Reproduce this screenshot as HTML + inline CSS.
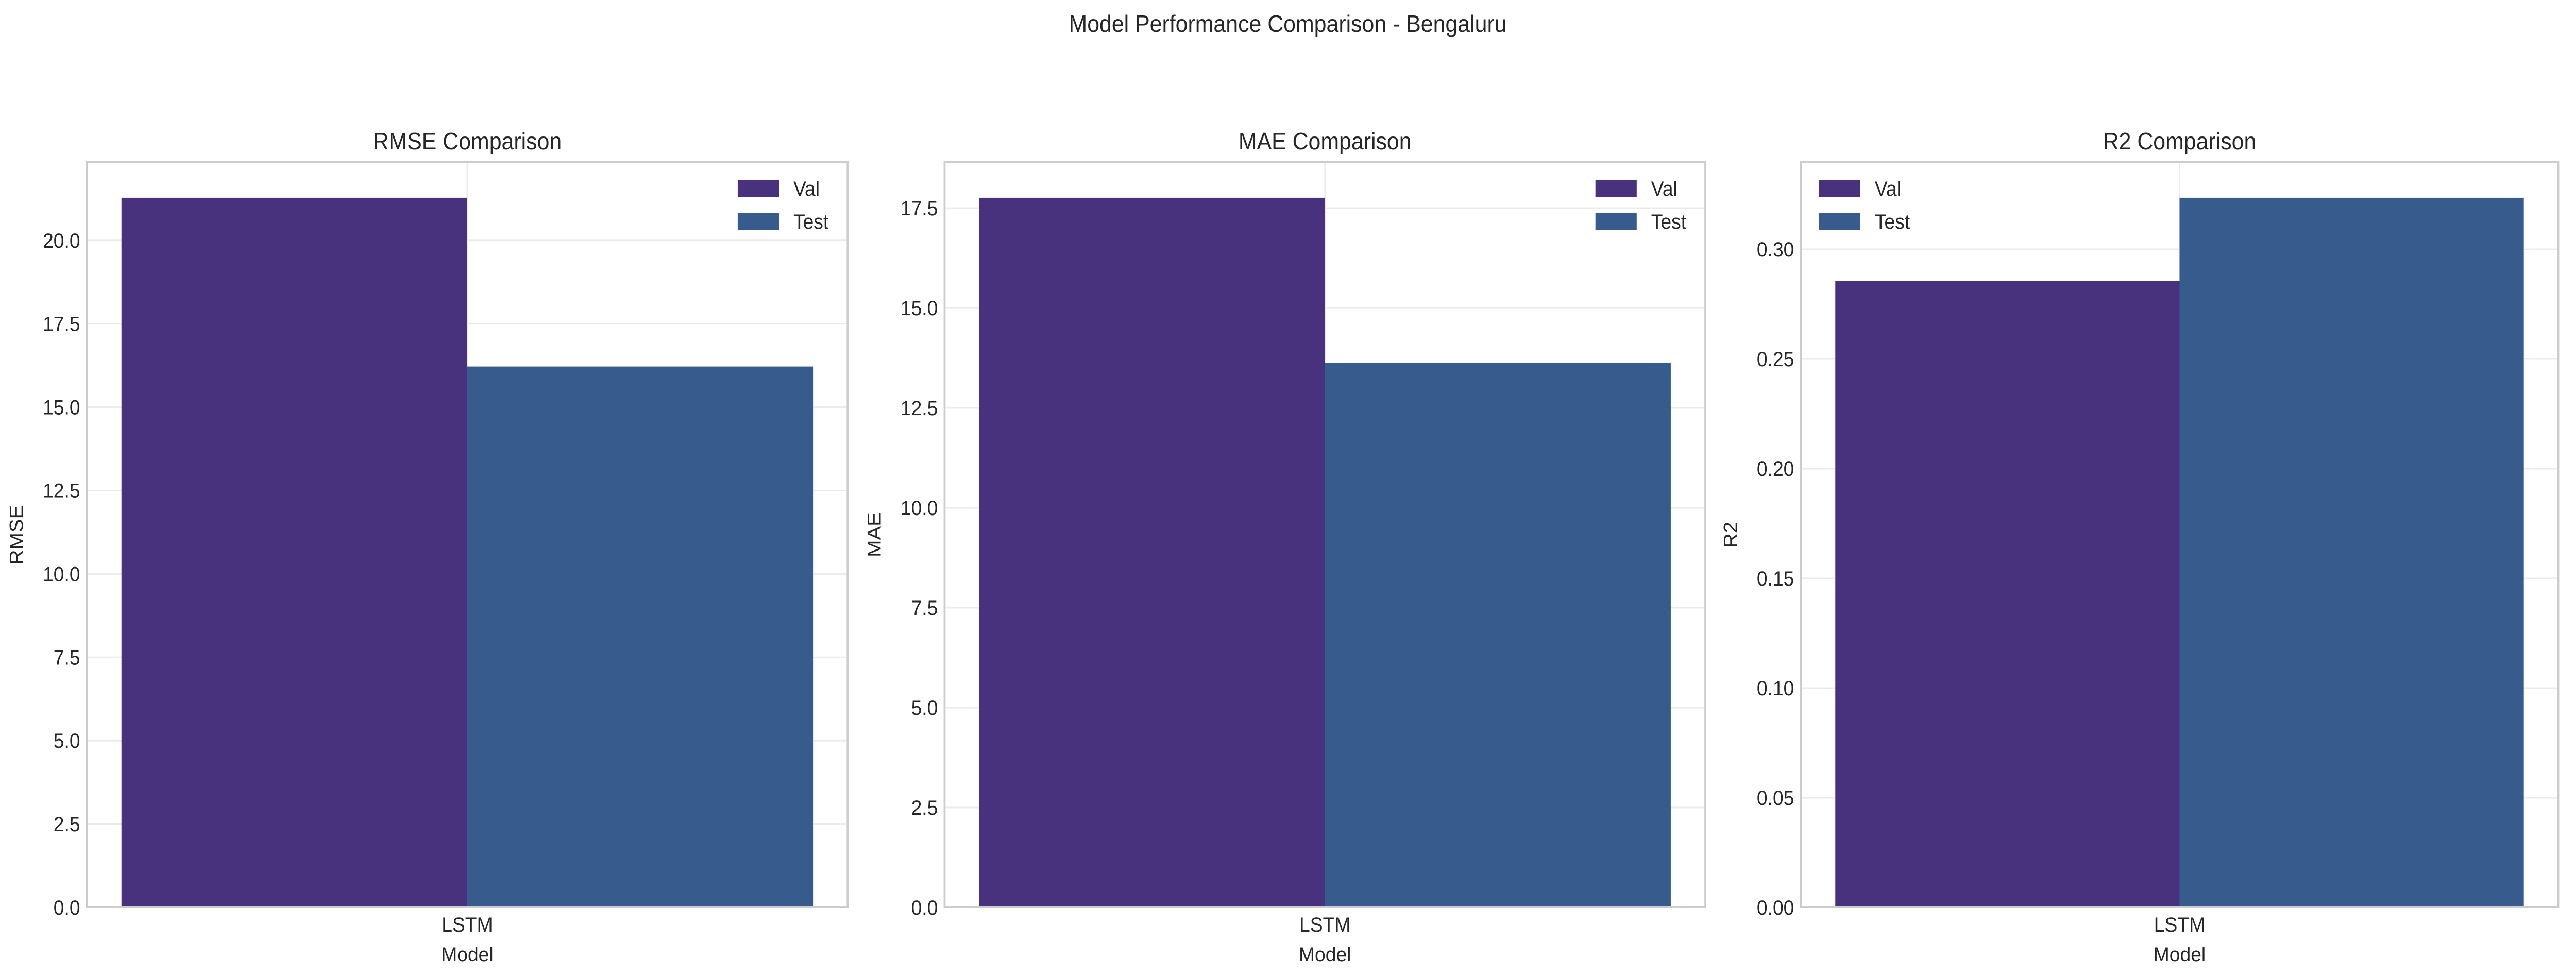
<!DOCTYPE html>
<html><head><meta charset="utf-8"><style>html,body{margin:0;padding:0;background:#fff;overflow:hidden;width:100vw;height:100vh}svg{display:block;width:100vw;height:100vh}text{font-family:"Liberation Sans",sans-serif;fill:#262626}</style></head>
<body>
<svg id="chart" viewBox="0 0 5367 1901" preserveAspectRatio="none" xmlns="http://www.w3.org/2000/svg">
<text x="2683" y="62" font-size="46" text-anchor="middle">Model Performance Comparison - Bengaluru</text>
</svg>
<script>
const categories = ["LSTM"];
const seriesNames = ["Val", "Test"];
const rmseValues = [21.28, 16.22];
const maeValues = [17.76, 13.63];
const r2Values = [0.2855, 0.3235];
const rmseTicks = [0, 2.5, 5, 7.5, 10, 12.5, 15, 17.5, 20];
const maeTicks = [0, 2.5, 5, 7.5, 10, 12.5, 15, 17.5];
const r2Ticks = [0, 0.05, 0.10, 0.15, 0.20, 0.25, 0.30];

const NS = "http://www.w3.org/2000/svg";
const svg = document.getElementById("chart");
const colors = ["#48317d", "#375b8c"];
function mk(tag, attrs, parent) {
  const e = document.createElementNS(NS, tag);
  for (const k in attrs) e.setAttribute(k, attrs[k]);
  (parent || svg).appendChild(e);
  return e;
}
function panel(key, title, ylabel, values, ticks, decimals, left, right, legendLeft) {
  const top = 315, bottom = 1762;
  const g = mk("g", {});
  
  
  const ymax = Math.max(...values) * 1.05;
  const y = v => bottom - (v / ymax) * (bottom - top);
  const xmin = -0.385, xmax = 0.385;
  const x = v => left + (v - xmin) / (xmax - xmin) * (right - left);
  mk("rect", {x: left, y: top, width: right - left, height: bottom - top, fill: "#fff"}, g);
  ticks.forEach(t => {
    const ln = mk("line", {x1: left, x2: right, y1: y(t), y2: y(t), stroke: "#ebebeb", "stroke-width": 3}, g);
    
    
    const tx = mk("text", {x: left - 14, y: y(t) + 14, "font-size": 40, "text-anchor": "end"}, g);
    tx.textContent = t.toFixed(decimals);
    
    
  });
  categories.forEach((c, ci) => {
    mk("line", {x1: x(ci), x2: x(ci), y1: top, y2: bottom, stroke: "#ebebeb", "stroke-width": 3}, g);
    values.forEach((v, si) => {
      const x0 = ci - 0.35 + si * 0.35;
      const r = mk("rect", {x: x(x0), y: y(v), width: x(x0 + 0.35) - x(x0), height: bottom - y(v), fill: colors[si]}, g);
      
      
    });
    const lt = mk("text", {x: x(ci), y: 1809, "font-size": 40, "text-anchor": "middle"}, g);
    lt.textContent = c;
    
    
  });
  const fr = mk("rect", {x: left, y: top, width: right - left, height: bottom - top, fill: "none", stroke: "#cccccc", "stroke-width": 4}, g);
  
  
  const tt = mk("text", {x: (left + right) / 2, y: 290, "font-size": 46, "text-anchor": "middle"}, g);
  tt.textContent = title;
  
  
  const xl = mk("text", {x: (left + right) / 2, y: 1867, "font-size": 40, "text-anchor": "middle"}, g);
  xl.textContent = "Model";
  
  
  const yx = left - 133;
  const yl = mk("text", {x: yx, y: (top + bottom) / 2, "font-size": 40, "text-anchor": "middle", transform: `rotate(-90 ${yx} ${(top + bottom) / 2})`}, g);
  yl.textContent = ylabel;
  
  
  seriesNames.forEach((n, si) => {
    const py = 366 + si * 64;
    const px = legendLeft ? left + 38 : right - 229;
    const p = mk("rect", {x: px, y: py - 16, width: 86, height: 32, fill: colors[si]}, g);
    
    
    const lt2 = mk("text", {x: px + 116, y: py + 14, "font-size": 40}, g);
    lt2.textContent = n;
    
    
  });
}
panel("rmse", "RMSE Comparison", "RMSE", rmseValues, rmseTicks, 1, 181, 1766, false);
panel("mae", "MAE Comparison", "MAE", maeValues, maeTicks, 1, 1968, 3553, false);
panel("r2", "R2 Comparison", "R2", r2Values, r2Ticks, 2, 3752, 5330, true);
</script>
</body></html>
